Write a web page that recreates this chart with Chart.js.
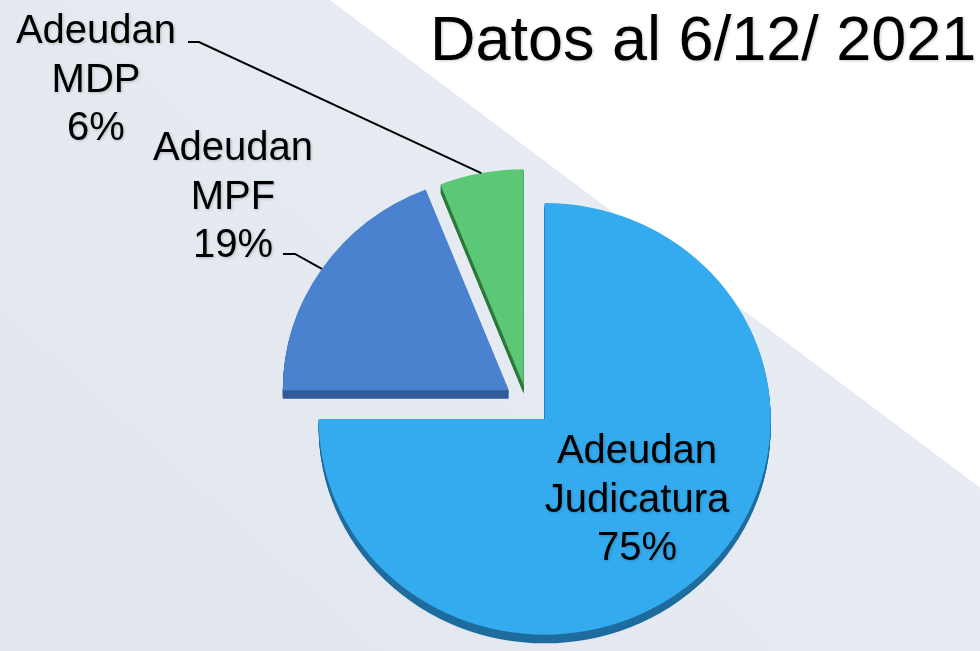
<!DOCTYPE html>
<html lang="es">
<head>
<meta charset="UTF-8">
<title>Datos al 6/12/ 2021</title>
<script src="https://cdn.jsdelivr.net/npm/chart.js"></script>
<style>
    html, body { margin: 0; padding: 0; background: #e5eaf2; overflow: hidden; }
    #wrap { width: 980px; height: 651px; }
</style>
</head>
<body>
<div id="wrap"><canvas id="pie" width="980" height="651"></canvas></div>
<script>
// data
const chartTitle = 'Datos al 6/12/ 2021';
const categories = [['Adeudan', 'Judicatura'], ['Adeudan', 'MPF'], ['Adeudan', 'MDP']];
const values = [75, 19, 6];

// look
const sliceColors = ['#34abef', '#4a82cf', '#5cc777'];
const sideColors = ['#1f6c9f', '#2f5c98', '#2c7a3c'];
const explode = [25, 22, 18];      // px each slice is pulled out
const tilt = 0.955;                // vertical squash for the 3d look
const depth = 9;                   // thickness of the pie edge
const font = '"Liberation Sans", Arial, sans-serif';

// label blocks: centre x, first baseline, optional leader start + bend
const labelSpots = [
    { x: 637, y: 463, leader: null },
    { x: 233, y: 160, leader: [[283, 254], [295, 254]] },
    { x: 96, y: 43, leader: [[188, 42], [199, 42]] }
];

const total = values.reduce((a, b) => a + b, 0);

function outerPoint(chart, i) {
    const arc = chart.getDatasetMeta(0).data[i];
    const mid = (arc.startAngle + arc.endAngle) / 2;
    const r = arc.outerRadius + explode[i];
    return { x: arc.x + Math.cos(mid) * r, y: arc.y + Math.sin(mid) * r * tilt };
}

const backdrop = {
    id: 'backdrop',
    beforeDraw(chart) {
        const ctx = chart.ctx;
        const w = chart.width, h = chart.height;
        const g = ctx.createLinearGradient(0, h, w * 0.6, 0);
        g.addColorStop(0, '#e1e6ee');
        g.addColorStop(1, '#e8edf4');
        ctx.save();
        ctx.fillStyle = g;
        ctx.fillRect(0, 0, w, h);
        // white corner top right
        ctx.fillStyle = '#ffffff';
        ctx.beginPath();
        ctx.moveTo(330, 0);
        ctx.lineTo(w, 0);
        ctx.lineTo(w, (w - 330) * 0.75);
        ctx.closePath();
        ctx.fill();
        ctx.restore();
    }
};

const explodedPie = {
    id: 'explodedPie',
    beforeDatasetsDraw(chart) {
        const ctx = chart.ctx;
        const arcs = chart.getDatasetMeta(0).data;
        const cx = arcs[0].x, cy = arcs[0].y;
        ctx.save();
        ctx.translate(cx, cy);
        ctx.scale(1, tilt);
        ctx.translate(-cx, -cy);
        arcs.forEach((arc, i) => {
            const mid = (arc.startAngle + arc.endAngle) / 2;
            arc._home = [arc.x, arc.y];
            arc.x += Math.cos(mid) * explode[i];
            arc.y += Math.sin(mid) * explode[i];
        });
        // side walls
        arcs.forEach((arc, i) => {
            const saved = arc.options;
            arc.options = Object.assign({}, saved, { backgroundColor: sideColors[i], borderWidth: 0 });
            for (let t = depth; t >= 1; t--) {
                ctx.save();
                ctx.translate(0, t);
                arc.draw(ctx);
                ctx.restore();
            }
            arc.options = saved;
        });
    },
    afterDatasetsDraw(chart) {
        chart.getDatasetMeta(0).data.forEach(arc => {
            if (arc._home) { arc.x = arc._home[0]; arc.y = arc._home[1]; }
        });
        chart.ctx.restore();
    }
};

const pieLabels = {
    id: 'pieLabels',
    afterDraw(chart) {
        const ctx = chart.ctx;
        ctx.save();
        // leader lines
        ctx.strokeStyle = '#000';
        ctx.lineWidth = 2;
        labelSpots.forEach((s, i) => {
            if (!s.leader) return;
            const end = outerPoint(chart, i);
            ctx.beginPath();
            ctx.moveTo(s.leader[0][0], s.leader[0][1]);
            ctx.lineTo(s.leader[1][0], s.leader[1][1]);
            ctx.lineTo(end.x, end.y);
            ctx.stroke();
        });
        ctx.shadowColor = 'rgba(0,0,0,0.2)';
        ctx.shadowBlur = 3;
        ctx.shadowOffsetX = 1;
        ctx.shadowOffsetY = 1;
        ctx.fillStyle = '#000';
        ctx.textAlign = 'center';
        ctx.textBaseline = 'alphabetic';
        ctx.font = '40px ' + font;
        labelSpots.forEach((s, i) => {
            const lines = categories[i].concat(Math.round(values[i] / total * 100) + '%');
            lines.forEach((txt, k) => ctx.fillText(txt, s.x, s.y + k * 48.5));
        });
        ctx.textAlign = 'left';
        ctx.font = '63px ' + font;
        ctx.fillText(chartTitle, 430, 60);
        ctx.restore();
    }
};

new Chart(document.getElementById('pie'), {
    type: 'pie',
    data: {
        labels: categories.map(c => c.join(' ')),
        datasets: [{
            data: values,
            backgroundColor: sliceColors,
            borderWidth: 0,
            radius: 226,
            clip: false
        }]
    },
    options: {
        responsive: false,
        animation: false,
        events: [],
        layout: { padding: { left: 74, top: 153, right: 0, bottom: 0 } },
        plugins: {
            legend: { display: false },
            tooltip: { enabled: false },
            title: { display: false }
        }
    },
    plugins: [backdrop, explodedPie, pieLabels]
});
</script>
</body>
</html>
